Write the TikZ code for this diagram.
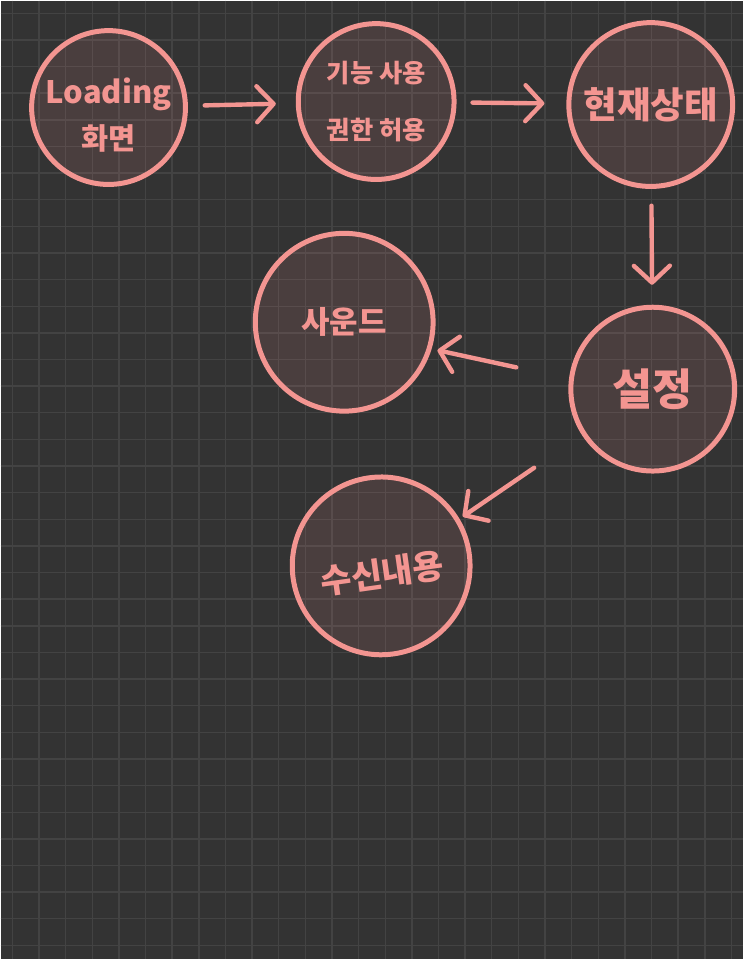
\documentclass[tikz,border=0pt]{standalone}
\usepackage{fontspec}
\setmainfont{Noto Sans CJK KR}
\usetikzlibrary{arrows.meta}
\definecolor{bgdark}{HTML}{333333}
\definecolor{gridgray}{HTML}{434343}
\definecolor{salmon}{HTML}{F39591}
\tikzset{
  bubble/.style={circle, draw=salmon, line width=0.125cm, fill=salmon, fill opacity=0.12,
    text opacity=1, text=salmon, align=center, inner sep=0pt},
  flow/.style={draw=salmon, line width=0.11cm, line cap=round,
    -{Straight Barb[length=0.42cm, width=0.9cm, round]}},
  gridline/.style={draw=gridgray, line width=0.035cm}
}
\begin{document}
\begin{tikzpicture}[x=0.025cm, y=-0.025cm]
                % Background + grid
                \fill[bgdark] (0,0) rectangle (743,960);
                \foreach \i in {0,...,27} \draw[gridline] ({11.7+26.67*\i},0) -- ++(0,960);
                \foreach \j in {0,...,35} \draw[gridline] (0,{12.6+26.67*\j}) -- ++(743,0);
                \useasboundingbox (0,0) rectangle (743,960);

                % Top row
                \node[bubble, minimum size=3.85cm, font=\bfseries] (load) at (108,107)
                  {\fontsize{22}{26}\selectfont\rule{0pt}{29pt}Loading\\[9pt] \fontsize{21}{24}\selectfont 화면};
                \node[bubble, minimum size=3.9cm, font=\bfseries\fontsize{18}{20}\selectfont] (perm) at (376,101)
                  {기능 사용\\[21pt] 권한 허용};
                \node[bubble, minimum size=4.1cm, font=\bfseries\fontsize{26}{28}\selectfont] (state) at (651,104) {현재상태};

                % Settings and its branches
                \node[bubble, minimum size=4.1cm, font=\bfseries\fontsize{31}{34}\selectfont] (set) at (653,389) {설정};
                \node[bubble, minimum size=4.45cm, font=\bfseries\fontsize{22}{24}\selectfont] (sound) at (344,322) {사운드};
                \node[bubble, minimum size=4.45cm, rotate=8, font=\bfseries\fontsize{24}{26}\selectfont] (recv) at (381,566)
                  {\rule{0pt}{31pt}수신내용};

                % Arrows
                \draw[flow, shorten <=0.42cm, shorten >=0.5cm] (load) -- (perm);
                \draw[flow, shorten <=0.4cm, shorten >=0.55cm] (perm) -- (state);
                \draw[flow, shorten <=0.42cm, shorten >=0.5cm] (state) -- (set);
                \draw[flow, shorten <=1.35cm, shorten >=0.15cm] (set.173) -- (sound.343);
                \draw[flow, shorten <=1.45cm, shorten >=0.1cm] (set.213) -- (recv.23);
\end{tikzpicture}
\end{document}
